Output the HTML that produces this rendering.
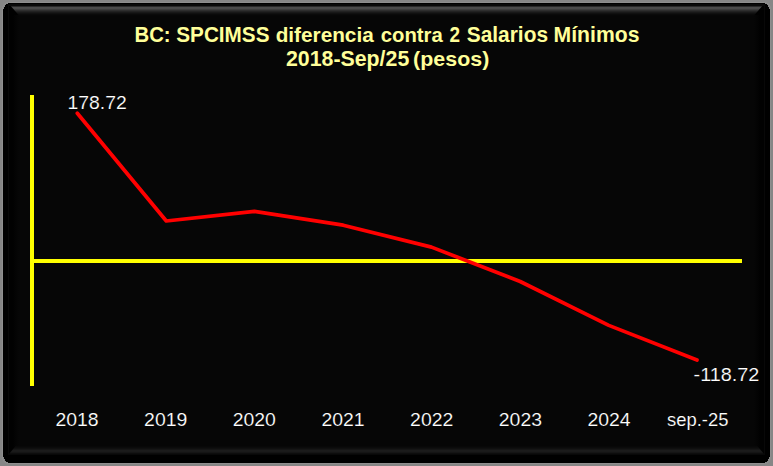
<!DOCTYPE html>
<html>
<head>
<meta charset="utf-8">
<title>BC: SPCIMSS diferencia contra 2 Salarios Mínimos</title>
<style>
  html, body { margin: 0; padding: 0; background: #868686; }
  body { width: 773px; height: 466px; overflow: hidden; font-family: "Liberation Sans", sans-serif; }
  svg { display: block; }
  text { font-family: "Liberation Sans", sans-serif; }
  .title { font-weight: bold; fill: #ffff99; font-size: 21.3px; }
  .lbl { fill: #ffffff; font-size: 17.9px; stroke: #060606; stroke-width: 0.15px; }
</style>
</head>
<body>
<svg width="773" height="466" viewBox="0 0 773 466">
  <defs>
    <linearGradient id="gTop" x1="0" y1="4" x2="0" y2="16" gradientUnits="userSpaceOnUse">
      <stop offset="0" stop-color="#0a0a0a"/>
      <stop offset="0.125" stop-color="#0a0a0a"/>
      <stop offset="0.2083" stop-color="#2a2a2a"/>
      <stop offset="0.2917" stop-color="#4c4c4c"/>
      <stop offset="0.375" stop-color="#4b4b4b"/>
      <stop offset="0.4583" stop-color="#3d3d3d"/>
      <stop offset="0.5417" stop-color="#2e2e2e"/>
      <stop offset="0.625" stop-color="#222222"/>
      <stop offset="0.7083" stop-color="#181818"/>
      <stop offset="0.7917" stop-color="#101010"/>
      <stop offset="0.875" stop-color="#0a0a0a"/>
      <stop offset="1" stop-color="#060606"/>
    </linearGradient>
    <linearGradient id="gBot" x1="0" y1="445.5" x2="0" y2="454.5" gradientUnits="userSpaceOnUse">
      <stop offset="0" stop-color="#060606"/>
      <stop offset="0.111" stop-color="#080808"/>
      <stop offset="0.222" stop-color="#0b0b0b"/>
      <stop offset="0.333" stop-color="#0f0f0f"/>
      <stop offset="0.444" stop-color="#151515"/>
      <stop offset="0.555" stop-color="#1b1b1b"/>
      <stop offset="0.666" stop-color="#1a1a1a"/>
      <stop offset="0.777" stop-color="#151515"/>
      <stop offset="0.888" stop-color="#0d0d0d"/>
      <stop offset="1" stop-color="#020202"/>
    </linearGradient>
  <linearGradient id="gSide" x1="13" y1="0" x2="760" y2="0" gradientUnits="userSpaceOnUse">
      <stop offset="0" stop-color="#010101"/>
      <stop offset="0.0027" stop-color="#030303"/>
      <stop offset="0.0080" stop-color="#060606"/>
      <stop offset="0.9920" stop-color="#060606"/>
      <stop offset="0.9973" stop-color="#030303"/>
      <stop offset="1" stop-color="#010101"/>
    </linearGradient>
  </defs>

  <!-- background -->
  <rect x="0" y="0" width="773" height="466" fill="#868686"/>
  <!-- faint light ring around frame -->
  <rect x="2.5" y="2.5" width="768" height="461" rx="6" ry="6" fill="none" stroke="#8f8f8f" stroke-width="1"/>
  <!-- black frame (stair-stepped rounded corners) -->
  <polygon shape-rendering="crispEdges" fill="#000000" points="3,9 4,9 4,8 4,7 5,7 5,6 5,5 6,5 6,4 8,4 8,3 765,3 765,4 767,4 767,5 768,5 768,6 768,7 769,7 769,8 769,9 770,9 770,457 769,457 769,458 769,459 768,459 768,460 768,461 767,461 767,462 765,462 765,463 8,463 8,462 6,462 6,461 5,461 5,460 5,459 4,459 4,458 4,457 3,457"/>
  <!-- thin inner edge lines -->
  <rect x="8" y="4" width="757" height="451" fill="#080808"/>
  <rect x="9" y="6" width="755" height="448" fill="#010101"/>
  <!-- face -->
  <rect x="13" y="15" width="747" height="432" fill="url(#gSide)"/>
  <!-- top bevel -->
  <polygon points="9,4 764,4 754,15.5 19,15.5" fill="url(#gTop)"/>
  <!-- bottom bevel -->
  <polygon points="16,445.5 757,445.5 764,454 9,454" fill="url(#gBot)"/>

  <!-- title -->
  <text class="title" style="font-size:22.0px" x="134.53" y="41.7" textLength="36.08" lengthAdjust="spacingAndGlyphs">BC:</text>
  <text class="title" style="font-size:22.0px" x="176.30" y="41.7" textLength="93.15" lengthAdjust="spacingAndGlyphs">SPCIMSS</text>
  <text class="title" style="font-size:21.0px" x="275.66" y="41.7" textLength="98.06" lengthAdjust="spacingAndGlyphs">diferencia</text>
  <text class="title" style="font-size:21.0px" x="380.69" y="41.7" textLength="62.08" lengthAdjust="spacingAndGlyphs">contra</text>
  <text class="title" style="font-size:21.8px" x="449.53" y="41.7" textLength="10.53" lengthAdjust="spacingAndGlyphs">2</text>
  <text class="title" style="font-size:21.3px" x="466.75" y="41.7" textLength="81.27" lengthAdjust="spacingAndGlyphs">Salarios</text>
  <text class="title" style="font-size:21.3px" x="553.61" y="41.7" textLength="85.79" lengthAdjust="spacingAndGlyphs">Mínimos</text>
  <text class="title" style="font-size:21.6px" x="285.97" y="65.8" textLength="123.31" lengthAdjust="spacingAndGlyphs">2018-Sep/25</text>
  <text class="title" style="font-size:21.0px" x="413.14" y="65.8" textLength="76.18" lengthAdjust="spacingAndGlyphs">(pesos)</text>

  <!-- axes -->
  <rect x="30" y="95" width="4" height="291" fill="#ffff00"/>
  <rect x="30" y="259" width="712" height="4" fill="#ffff00"/>

  <!-- series -->
  <polyline fill="none" stroke="#ff0000" stroke-width="3.7" stroke-linecap="round" stroke-linejoin="round"
    points="77.3,113.2 166.3,221 254.4,211.3 343.2,225.2 431.5,247.1 520.2,281.5 608.8,325.4 697,360"/>

  <!-- data labels -->
  <text class="lbl" x="67.5" y="109" textLength="59.2" lengthAdjust="spacingAndGlyphs">178.72</text>
  <text class="lbl" x="693.6" y="381" textLength="65.8" lengthAdjust="spacingAndGlyphs">-118.72</text>

  <!-- category labels -->
  <text class="lbl" x="55.4" y="426" textLength="43.2" lengthAdjust="spacingAndGlyphs">2018</text>
  <text class="lbl" x="144.1" y="426" textLength="43.2" lengthAdjust="spacingAndGlyphs">2019</text>
  <text class="lbl" x="232.7" y="426" textLength="43.2" lengthAdjust="spacingAndGlyphs">2020</text>
  <text class="lbl" x="321.4" y="426" textLength="43.2" lengthAdjust="spacingAndGlyphs">2021</text>
  <text class="lbl" x="410.1" y="426" textLength="43.2" lengthAdjust="spacingAndGlyphs">2022</text>
  <text class="lbl" x="498.8" y="426" textLength="43.2" lengthAdjust="spacingAndGlyphs">2023</text>
  <text class="lbl" x="587.4" y="426" textLength="43.2" lengthAdjust="spacingAndGlyphs">2024</text>
  <text class="lbl" x="667" y="426" textLength="61.4" lengthAdjust="spacingAndGlyphs">sep.-25</text>
</svg>
</body>
</html>
